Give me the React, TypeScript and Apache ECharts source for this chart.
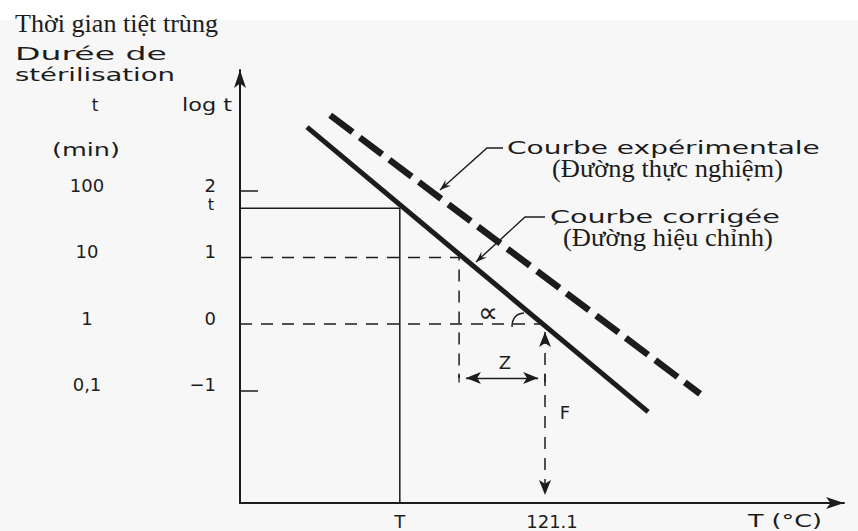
import React, { useEffect, useRef } from "react";
import * as echarts from "echarts";

// ---- values ----
const logTicks = [2, 1, 0, -1];
const logTickLabels = ["2", "1", "0", "−1"];
const tTickLabels = ["100", "10", "1", "0,1"];

const REF_TEMP = 121.1; // °C
const Z_VALUE = 10; // °C per log cycle
const T_VALUE = 104.2; // chosen temperature T
const T_LOG = 1.74; // log t at temperature T
const Z_ARROW_LOG = -0.81; // level of the Z dimension arrow

const correctedCurve = [
  [93.4, 2.96],
  [133.1, -1.32],
];
const experimentalCurve = [
  [96.1, 3.14],
  [139.15, -1.05],
];

const xLabelValues = [T_VALUE, REF_TEMP];
const xLabels = ["T", "121.1"];

// axis extents
const X_MIN = 85.6;
const X_MAX = 155.9;
const Y_MIN = -2.69;
const Y_MAX = 3.82;

const INK = "#1c1c1c";
const SANS = '"DejaVu Sans", sans-serif';
const SERIF = '"Liberation Serif", "Times New Roman", serif';

function measure(text: string, size: number, family: string) {
  const c = document.createElement("canvas").getContext("2d")!;
  c.font = `${size}px ${family}`;
  return c.measureText(text).width || 1;
}

function stretchedText(
  text: string,
  left: number,
  cy: number,
  width: number | null,
  size: number,
  family: string
) {
  const sx = width ? width / measure(text, size, family) : 1;
  return {
    type: "text",
    x: left,
    y: cy,
    scaleX: sx,
    silent: true,
    style: {
      text,
      fontSize: size,
      fontFamily: family,
      fill: INK,
      align: "left",
      verticalAlign: "middle",
    },
  };
}

function centeredText(text: string, cx: number, cy: number, size: number, family: string) {
  return {
    type: "text",
    x: cx,
    y: cy,
    silent: true,
    style: {
      text,
      fontSize: size,
      fontFamily: family,
      fill: INK,
      align: "center",
      verticalAlign: "middle",
    },
  };
}

function leader(points: number[][]) {
  // arrow head at the first point, pointing away from the second
  const [tx, ty] = points[0];
  const [px, py] = points[1];
  const dx = tx - px;
  const dy = ty - py;
  const len = Math.hypot(dx, dy);
  const ux = dx / len;
  const uy = dy / len;
  const bx = tx - ux * 11;
  const by = ty - uy * 11;
  const nx = -uy * 4;
  const ny = ux * 4;
  return [
    {
      type: "polyline",
      silent: true,
      shape: { points },
      style: { stroke: INK, lineWidth: 1.4, fill: "none" },
    },
    {
      type: "polygon",
      silent: true,
      shape: {
        points: [
          [tx, ty],
          [bx + nx, by + ny],
          [tx - ux * 7, ty - uy * 7],
          [bx - nx, by - ny],
        ],
      },
      style: { fill: INK },
    },
  ];
}

export default function App() {
  const ref = useRef<HTMLDivElement>(null);

  useEffect(() => {
    if (!ref.current) return;
    document.body.style.margin = "0";
    const chart = echarts.init(ref.current, undefined, { renderer: "svg" });

    const inset = 0.8;
    const dashed = { color: INK, width: 1.5, type: [12, 9] as number[] };

    const option: any = {
      animation: false,
      backgroundColor: "#f7f7f7",
      grid: { left: 240, right: 14, top: 70, bottom: 28, containLabel: false },
      xAxis: {
        type: "value",
        min: X_MIN,
        max: X_MAX,
        axisLine: {
          show: true,
          onZero: false,
          lineStyle: { color: INK, width: 2 },
          symbol: ["none", "arrow"],
          symbolSize: [9, 18],
        },
        axisTick: { show: false },
        splitLine: { show: false },
        axisLabel: {
          customValues: xLabelValues,
          margin: 9,
          fontSize: 18,
          fontFamily: SANS,
          color: INK,
          formatter: (v: number) => {
            const i = xLabelValues.indexOf(v);
            return i === 1 ? `{r|${xLabels[i]}}` : xLabels[i] ?? "";
          },
          rich: { r: { padding: [0, 0, 0, 14], fontSize: 18, fontFamily: SANS, color: INK } },
        },
      },
      yAxis: [
        {
          type: "value",
          position: "left",
          min: Y_MIN,
          max: Y_MAX,
          axisLine: {
            show: true,
            onZero: false,
            lineStyle: { color: INK, width: 2 },
            symbol: ["none", "arrow"],
            symbolSize: [9, 18],
          },
          axisTick: {
            show: true,
            customValues: [2, -1],
            inside: true,
            length: 18,
            lineStyle: { color: INK, width: 1.5 },
          },
          splitLine: { show: false },
          axisLabel: {
            customValues: logTicks,
            margin: 24,
            fontSize: 18,
            fontFamily: SANS,
            color: INK,
            verticalAlign: "bottom",
            lineHeight: 12,
            formatter: (v: number) => logTickLabels[logTicks.indexOf(v)] ?? "",
          },
        },
        {
          type: "value",
          position: "left",
          min: Y_MIN,
          max: Y_MAX,
          axisLine: { show: false },
          axisTick: { show: false },
          splitLine: { show: false },
          axisLabel: {
            customValues: logTicks,
            margin: 153,
            align: "center",
            fontSize: 18,
            fontFamily: SANS,
            color: INK,
            verticalAlign: "bottom",
            lineHeight: 12,
            formatter: (v: number) => tTickLabels[logTicks.indexOf(v)] ?? "",
          },
        },
      ],
      series: [
        {
          name: "Courbe corrigée",
          type: "line",
          data: correctedCurve,
          symbol: "none",
          silent: true,
          z: 4,
          lineStyle: { color: INK, width: 5 },
        },
        {
          name: "Courbe expérimentale",
          type: "line",
          data: experimentalCurve,
          symbol: "none",
          silent: true,
          z: 4,
          lineStyle: { color: INK, width: 6.5, type: [28, 9] },
        },
        {
          name: "T guide",
          type: "line",
          data: [
            [X_MIN, T_LOG],
            [T_VALUE, T_LOG],
            [T_VALUE, Y_MIN],
          ],
          symbol: "none",
          silent: true,
          lineStyle: { color: INK, width: 1.5 },
        },
        {
          name: "log 1 guide",
          type: "line",
          data: [
            [X_MIN, 1],
            [REF_TEMP - Z_VALUE, 1],
            [REF_TEMP - Z_VALUE, Z_ARROW_LOG],
          ],
          symbol: "none",
          silent: true,
          lineStyle: dashed,
        },
        {
          name: "Z end bars",
          type: "scatter",
          data: [
            [REF_TEMP - Z_VALUE, Z_ARROW_LOG],
            [REF_TEMP, Z_ARROW_LOG],
          ],
          symbol: "rect",
          symbolSize: [1.6, 9],
          silent: true,
          itemStyle: { color: INK },
        },
        {
          name: "log 0 guide",
          type: "line",
          data: [
            [X_MIN, 0],
            [REF_TEMP, 0],
          ],
          symbol: "none",
          silent: true,
          lineStyle: dashed,
          markLine: {
            silent: true,
            symbol: ["arrow", "arrow"],
            symbolSize: [9, 15],
            label: { show: false },
            emphasis: { disabled: true },
            data: [
              [
                { coord: [REF_TEMP, -0.12], lineStyle: { ...dashed } },
                { coord: [REF_TEMP, Y_MIN + 0.12] },
              ],
              [
                {
                  coord: [REF_TEMP - Z_VALUE + inset, Z_ARROW_LOG],
                  lineStyle: { color: INK, width: 1.4, type: "solid" },
                },
                { coord: [REF_TEMP - inset, Z_ARROW_LOG] },
              ],
            ],
          },
        },
      ],
      graphic: [
        { type: "rect", silent: true, z: -10, shape: { x: 0, y: 0, width: 858, height: 20 }, style: { fill: "#ffffff" } },
        stretchedText("Thời gian tiệt trùng", 15, 24, 203, 26, SERIF),
        stretchedText("Durée de", 15, 54, 152, 17, SANS),
        stretchedText("stérilisation", 15, 75, 160, 17, SANS),
        centeredText("t", 95, 105, 17, SANS),
        stretchedText("log t", 182, 105, 50, 17, SANS),
        stretchedText("(min)", 52, 150, 68, 17, SANS),
        centeredText("t", 211, 204, 16, SANS),
        stretchedText("Courbe expérimentale", 507, 148, 313, 17, SANS),
        stretchedText("(Đường thực nghiệm)", 552, 169, 231, 26, SERIF),
        stretchedText("Courbe corrigée", 550, 217, 230, 17, SANS),
        centeredText("´", 556, 230, 20, SERIF),
        stretchedText("(Đường hiệu chỉnh)", 563, 238, 210, 26, SERIF),
        centeredText("∝", 488, 312, 28, SANS),
        centeredText("Z", 505, 362, 18, SANS),
        centeredText("F", 565, 412, 18, SANS),
        stretchedText("T (°C)", 748, 521, 74, 17, SANS),
        {
          type: "bezierCurve",
          silent: true,
          shape: { x1: 512, y1: 327, cpx1: 512, cpy1: 314, x2: 524, y2: 313 },
          style: { stroke: INK, lineWidth: 1.4, fill: "none" },
        },
        ...leader([
          [440, 190],
          [487, 148],
          [503, 148],
        ]),
        ...leader([
          [476, 262],
          [525, 217],
          [545, 217],
        ]),
      ],
    };

    chart.setOption(option);
    return () => chart.dispose();
  }, []);

  return (
    <div
      ref={ref}
      style={{ position: "fixed", left: 0, top: 0, width: 858, height: 531 }}
    />
  );
}
